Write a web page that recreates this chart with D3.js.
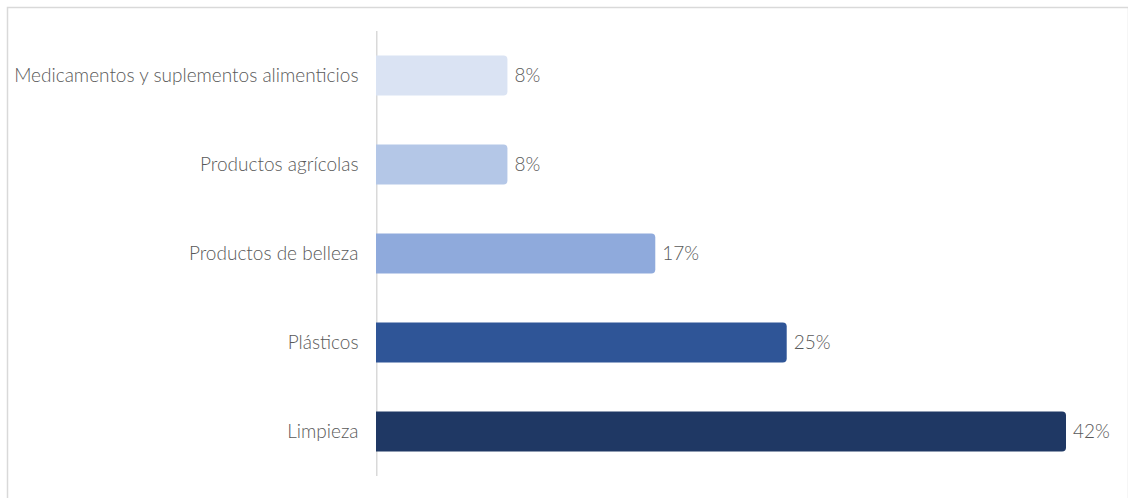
<!DOCTYPE html>
<html>
<head>
<meta charset="utf-8">
<script src="https://cdn.jsdelivr.net/npm/d3@7"></script>
<style>
  html, body { margin: 0; padding: 0; background: #ffffff; }
  svg { display: block; }
  text { font-family: Lato, "Open Sans", sans-serif; font-weight: 300; fill: #595959; }
</style>
</head>
<body>
<svg id="chart" width="1128" height="498"></svg>
<script>
// Categories, top to bottom
const categories = [
  "Medicamentos y suplementos alimenticios",
  "Productos agrícolas",
  "Productos de belleza",
  "Plásticos",
  "Limpieza"
];
// Share of each category, in percent
const values = [8, 8, 17, 25, 42];
// Bar fills, light to dark
const colors = ["#dae3f3", "#b4c7e7", "#8faadc", "#2f5597", "#1f3864"];

const W = 1128, H = 498;
const svg = d3.select("#chart");

// Chart frame
svg.append("rect")
  .attr("x", 7.5).attr("y", 7.5)
  .attr("width", W - 7).attr("height", H)
  .attr("fill", "none")
  .attr("stroke", "#d9d9d9")
  .attr("stroke-width", 1.5);

const plot = { left: 376, right: 1066, top: 31, bottom: 476 };

const x = d3.scaleLinear().domain([0, 42]).range([plot.left, plot.right]);
const y = d3.scaleBand().domain(categories).range([plot.top, plot.bottom]).paddingInner(0.55).paddingOuter(0.275);

// Category axis (labels only, no ticks)
const yAxis = svg.append("g")
  .attr("transform", `translate(${plot.left + 0.5},0)`)
  .call(d3.axisLeft(y).tickSize(0).tickPadding(18));
yAxis.select(".domain").remove();
yAxis.selectAll("text")
  .attr("font-size", 19)
  .attr("fill", "#595959")
  .style("font-family", "Lato, 'Open Sans', sans-serif")
  .style("font-weight", 300);

svg.append("line")
  .attr("x1", plot.left + 0.75).attr("x2", plot.left + 0.75)
  .attr("y1", plot.top).attr("y2", plot.bottom)
  .attr("stroke", "#d9d9d9").attr("stroke-width", 1.5);

// Bars with rounded right end
const r = 4;
function barPath(d, i) {
  const x0 = x(0), x1 = x(d), y0 = y(categories[i]), h = y.bandwidth();
  return `M${x0},${y0}H${x1 - r}Q${x1},${y0} ${x1},${y0 + r}V${y0 + h - r}Q${x1},${y0 + h} ${x1 - r},${y0 + h}H${x0}Z`;
}
svg.append("g").selectAll("path")
  .data(values)
  .join("path")
  .attr("d", barPath)
  .attr("fill", (d, i) => colors[i]);

// Value labels
svg.append("g").selectAll("text")
  .data(values)
  .join("text")
  .attr("x", d => x(d) + 7)
  .attr("y", (d, i) => y(categories[i]) + y.bandwidth() / 2)
  .attr("dy", "0.36em")
  .attr("font-size", 19)
  .text(d => d + "%");
</script>
</body>
</html>
